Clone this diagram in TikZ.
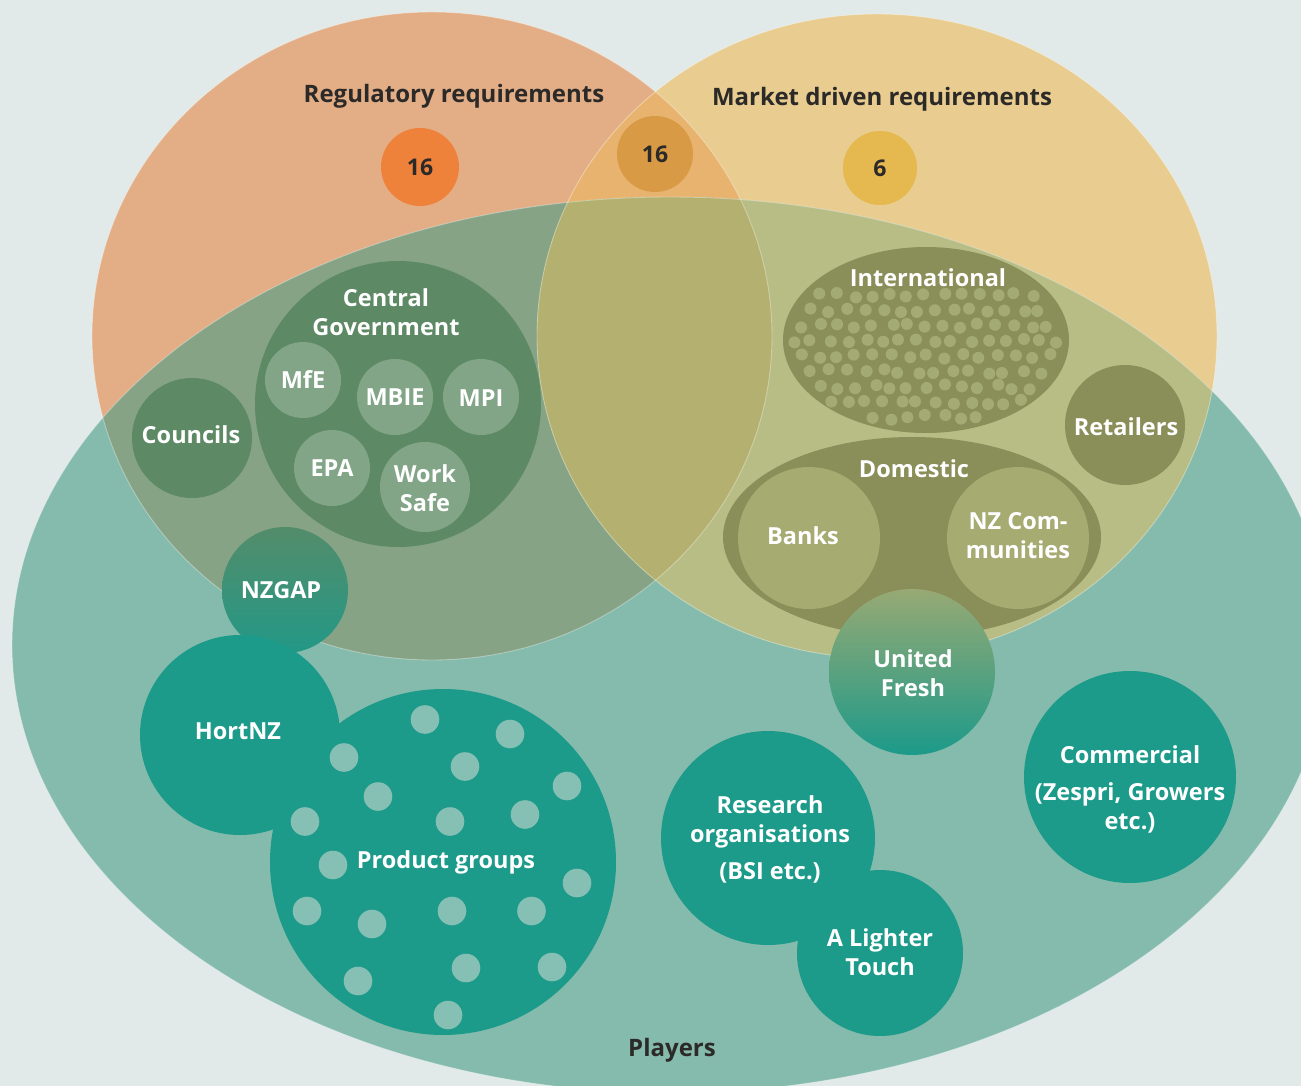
\documentclass[tikz,border=0pt]{standalone}
\usepackage{fontspec}
\setmainfont{Open Sans}
\begin{document}
\definecolor{bgc}{HTML}{E1EAE8}
\definecolor{regc}{HTML}{E3AE86}
\definecolor{mktc}{HTML}{E9CC8F}
\definecolor{regmkt}{HTML}{E8B36F}
\definecolor{playc}{HTML}{85BBAC}
\definecolor{regplay}{HTML}{86A386}
\definecolor{mktplay}{HTML}{B8BD86}
\definecolor{triple}{HTML}{B4B06F}
\definecolor{cgc}{HTML}{5D8A65}
\definecolor{cglight}{HTML}{82A587}
\definecolor{olive}{HTML}{8A8E58}
\definecolor{intdot}{HTML}{A4AA73}
\definecolor{oliveLight}{HTML}{A5AB71}
\definecolor{tealc}{HTML}{1C9A8A}
\definecolor{tealdot}{HTML}{86C0B4}
\definecolor{badgeA}{HTML}{EE823B}
\definecolor{badgeB}{HTML}{D99A45}
\definecolor{badgeC}{HTML}{E5B94F}
\definecolor{darktext}{HTML}{2B2A28}
\begin{tikzpicture}[x=1pt,y=-1pt,
  lbl/.style={text=white,font=\fontsize{23.5}{29}\selectfont\bfseries,align=center,inner sep=0pt},
  ttl/.style={text=darktext,font=\fontsize{24}{29}\selectfont\bfseries,inner sep=0pt},
  num/.style={text=darktext,font=\fontsize{23}{29}\selectfont\bfseries,inner sep=0pt},
  edge/.style={draw=white,draw opacity=0.35,line width=0.9pt}]
\useasboundingbox (0,0) rectangle (1301,1086);
\fill[bgc] (0,0) rectangle (1301,1086);

% the three requirement sets
\def\regpath{(432,336) ellipse [x radius=340pt, y radius=324pt]}
\def\mktpath{(877,336) ellipse [x radius=340pt, y radius=322pt]}
\def\playpath{(670,645) ellipse [x radius=658pt, y radius=448pt]}

\fill[regc] \regpath;
\fill[mktc] \mktpath;
\begin{scope}\clip \regpath; \fill[regmkt] \mktpath; \end{scope}
\fill[playc] \playpath;
\begin{scope}\clip \playpath; \fill[regplay] \regpath; \fill[mktplay] \mktpath;
  \clip \regpath; \fill[triple] \mktpath; \end{scope}
\draw[edge] \regpath;
\draw[edge] \mktpath;
\draw[edge] \playpath;

% counts
\fill[badgeA] (420,167) circle [radius=39pt];
\fill[badgeB] (655,154) circle [radius=38pt];
\fill[badgeC] (880,168) circle [radius=37pt];
\node[num] (nreg) at (420,167) {16};
\node[num] (nboth) at (655,154) {16};
\node[num] (nmkt) at (880,168) {6};

\node[ttl] (treg) at (454,96) {Regulatory requirements};
\node[ttl] (tmkt) at (882,99) {Market driven requirements};
\node[ttl] (tplay) at (672,1050) {Players};

% government players
\fill[cgc] (192,438) circle [radius=60pt];
\node[lbl] (councils) at (191,435) {Councils};
\fill[cgc] (398,404) circle [radius=143pt];
\node[lbl] (cgov) at (386,312) {Central\\Government};
\fill[cglight] (303,380) circle [radius=38pt];
\fill[cglight] (395,397) circle [radius=38pt];
\fill[cglight] (481,397) circle [radius=38pt];
\fill[cglight] (332,468) circle [radius=38pt];
\fill[cglight] (425,487) circle [radius=45pt];
\node[lbl] (mfe) at (303,380) {MfE};
\node[lbl] (mbie) at (395,397) {MBIE};
\node[lbl] (mpi) at (481,398) {MPI};
\node[lbl] (epa) at (332,468) {EPA};
\node[lbl] (wsafe) at (425,488) {Work\\Safe};

\shade[top color=cgc!85!tealc, bottom color=tealc!90!cgc] (285,590) circle [radius=63pt];
\node[lbl] (nzgap) at (281,590) {NZGAP};

% industry players
\fill[tealc] (240,735) circle [radius=100pt];
\fill[tealc] (443,862) circle [radius=173pt];
\node[lbl] (hortnz) at (238,731) {HortNZ};
\foreach \dx/\dy in {425/719.5,510/734,344/757.5,465/766.5,567/786,378/796.5,305/821.5,450/821.5,525/814.5,333/865,577/883,307/911,372/924,452/911,531.5/911,466/968,552/967,358/981,448/1015}
  \fill[tealdot] (\dx,\dy) circle [radius=14.3pt];
\node[lbl] (prodgrp) at (446,862) {Product groups};

\fill[tealc] (768,838) circle [radius=107pt];
\fill[tealc] (880,953) circle [radius=83pt];
\node[lbl] (research) at (770,839) {Research\\organisations\\[8pt](BSI etc.)};
\node[lbl] (lighter) at (880,952) {A Lighter\\Touch};

\fill[tealc] (1130,777) circle [radius=106pt];
\node[lbl] (commercial) at (1130,789) {Commercial\\[8pt](Zespri, Growers\\etc.)};

% market players
\fill[olive] (926,340) ellipse [x radius=143pt, y radius=93pt];
\pgfmathsetseed{4217}
\foreach \r in {0,...,9} {
  \foreach \c in {0,...,16} {
    \pgfmathsetmacro\px{786+\c*17.5+mod(\r,2)*8.75+rand*3}
    \pgfmathsetmacro\py{295+\r*15.3+rand*2.5}
    \pgfmathtruncatemacro\inside{and(((\px-926)/136)^2+((\py-340)/86)^2<1, \py>293)}
    \ifnum\inside=1 \fill[intdot] (\px,\py) circle [radius=6pt]; \fi
  }
}
\node[lbl] (intl) at (928,278) {International};

\fill[olive] (1125,425) circle [radius=60pt];
\node[lbl] (retail) at (1126,427) {Retailers};

\fill[olive] (912,537) ellipse [x radius=189pt, y radius=100pt];
\fill[oliveLight] (809,538) circle [radius=71pt];
\fill[oliveLight] (1018,538) circle [radius=71pt];
\node[lbl] (domestic) at (914,469) {Domestic};
\node[lbl] (banks) at (803,536) {Banks};
\node[lbl] (nzcomm) at (1018,536) {NZ Com-\\munities};

\shade[top color=oliveLight!90!tealc, bottom color=tealc] (912,672) circle [radius=83pt];
\node[lbl] (ufresh) at (913,673) {United\\Fresh};
\end{tikzpicture}
\end{document}
